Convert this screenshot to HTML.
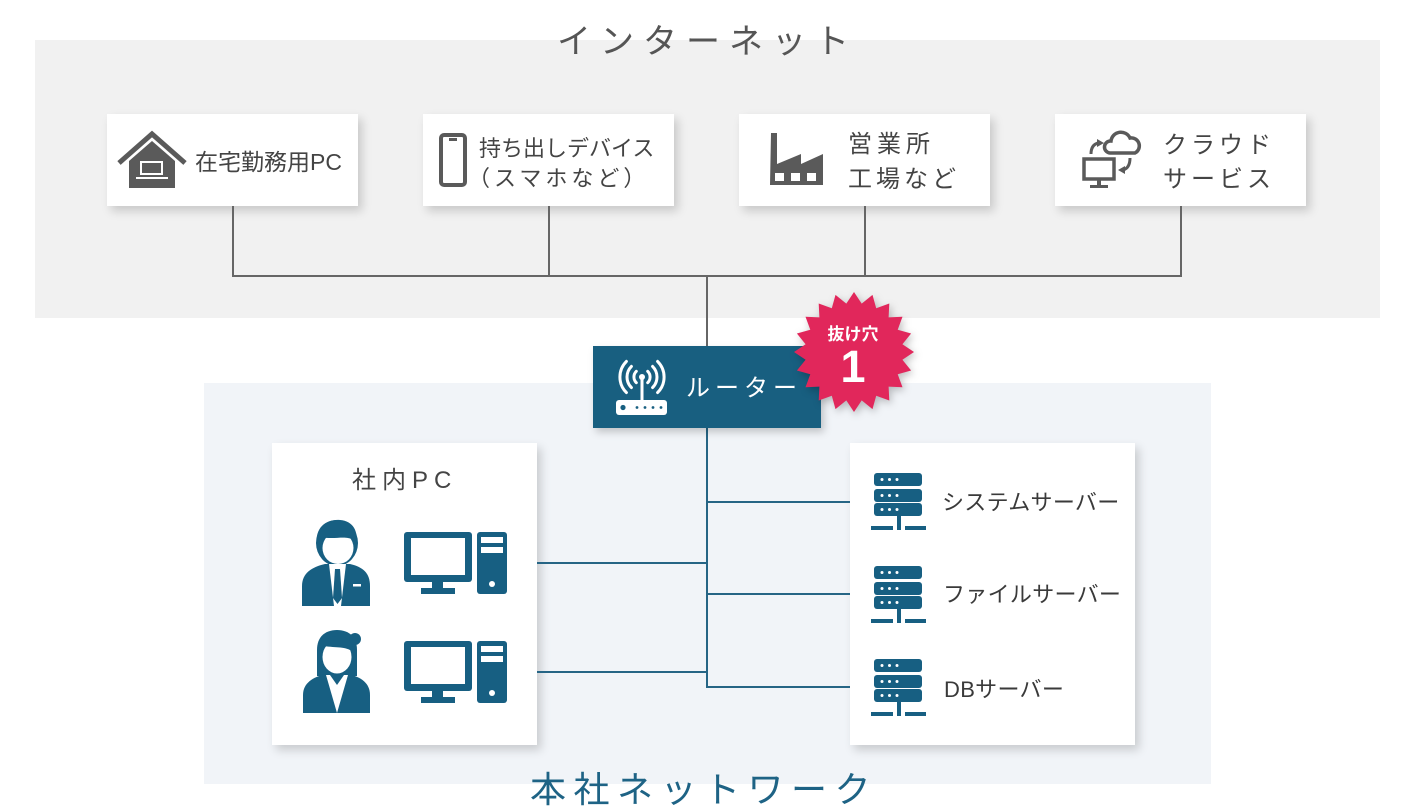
<!DOCTYPE html>
<html><head><meta charset="utf-8">
<style>
html,body{margin:0;padding:0;background:#fff;}
body{width:1412px;height:811px;position:relative;overflow:hidden;}
.band{position:absolute;}
.box{position:absolute;background:#fff;box-shadow:4px 5px 9px rgba(0,0,0,0.17);}
svg{position:absolute;left:0;top:0;}
text{font-family:"Liberation Sans","Noto Sans CJK JP",sans-serif;}
</style></head><body>
<div class="band" style="left:35px;top:40px;width:1345px;height:278px;background:#f1f1f1;"></div>
<div class="band" style="left:204px;top:383px;width:1007px;height:401px;background:#f1f4f8;"></div>

<div class="box" style="left:107px;top:114px;width:251px;height:92px;"></div>
<div class="box" style="left:423px;top:114px;width:251px;height:92px;"></div>
<div class="box" style="left:739px;top:114px;width:251px;height:92px;"></div>
<div class="box" style="left:1055px;top:114px;width:251px;height:92px;"></div>

<div class="box" style="left:272px;top:443px;width:265px;height:302px;"></div>
<div class="box" style="left:850px;top:443px;width:285px;height:302px;"></div>

<svg width="1412" height="811" viewBox="0 0 1412 811" xmlns="http://www.w3.org/2000/svg">
  <!-- gray connectors -->
  <g stroke="#666" stroke-width="2" fill="none">
    <line x1="233" y1="206" x2="233" y2="277"/>
    <line x1="549" y1="206" x2="549" y2="277"/>
    <line x1="865" y1="206" x2="865" y2="277"/>
    <line x1="1181" y1="206" x2="1181" y2="277"/>
    <line x1="232" y1="276" x2="1182" y2="276"/>
    <line x1="707" y1="276" x2="707" y2="347"/>
  </g>
  <!-- blue connectors -->
  <g stroke="#266585" stroke-width="2" fill="none">
    <line x1="707" y1="428" x2="707" y2="688"/>
    <line x1="706" y1="502" x2="850" y2="502"/>
    <line x1="706" y1="594" x2="850" y2="594"/>
    <line x1="706" y1="687" x2="850" y2="687"/>
    <line x1="537" y1="563" x2="708" y2="563"/>
    <line x1="537" y1="672" x2="708" y2="672"/>
  </g>

  <!-- Title -->
  <text x="557" y="53" font-size="34" letter-spacing="9" fill="#555">インターネット</text>

  <!-- house icon -->
  <g fill="#5a5a5a">
    <polyline points="119,163 152,134 185,163" fill="none" stroke="#5a5a5a" stroke-width="5"/>
    <polygon points="129,188 129,161 152,141 175,161 175,188"/>
    <rect x="141" y="162" width="21" height="12" fill="none" stroke="#fff" stroke-width="2"/>
    <rect x="136" y="177" width="32" height="2" fill="#fff"/>
  </g>
  <text x="195" y="170" font-size="23" fill="#444">在宅勤務用PC</text>

  <!-- phone icon -->
  <rect x="441" y="135" width="24" height="50" rx="3" fill="none" stroke="#5a5a5a" stroke-width="4"/>
  <rect x="449" y="138" width="8" height="3" fill="#5a5a5a"/>
  <text x="479" y="156" font-size="22" fill="#444">持ち出しデバイス</text>
  <text x="468" y="186" font-size="22" letter-spacing="4" fill="#444">（スマホなど）</text>

  <!-- factory icon -->
  <path d="M770,185 L771,133 L777,133 L777,164 L801,154 L801,164 L823,154 L823,185 Z" fill="#5a5a5a"/>
  <g fill="#fff">
    <rect x="775" y="173" width="9" height="8"/>
    <rect x="791" y="173" width="9" height="8"/>
    <rect x="807" y="173" width="9" height="8"/>
  </g>
  <text x="848" y="152" font-size="24" letter-spacing="5" fill="#444">営業所</text>
  <text x="848" y="187" font-size="24" letter-spacing="4" fill="#444">工場など</text>

  <!-- cloud icon -->
  <g stroke="#5a5a5a" stroke-width="3.5" fill="none">
    <path d="M1110,153 A6,6 0 0 1 1111,141 A10,10 0 0 1 1130,138 A8,8 0 0 1 1135,153 Z"/>
    <rect x="1084" y="159" width="30" height="20"/>
    <path d="M1091,154 Q1091,145 1098,143" stroke-width="3"/>
    <path d="M1130,158 Q1130,168 1123,170" stroke-width="3"/>
  </g>
  <g fill="#5a5a5a">
    <polygon points="1097,139 1104,143 1097,147"/>
    <polygon points="1125,166 1118,170 1125,174"/>
    <rect x="1097" y="180" width="4" height="5"/>
    <rect x="1090" y="185" width="18" height="3"/>
  </g>
  <text x="1163" y="153" font-size="24" letter-spacing="4" fill="#444">クラウド</text>
  <text x="1163" y="187" font-size="24" letter-spacing="4" fill="#444">サービス</text>

  <!-- router -->
  <rect x="593" y="346" width="228" height="82" fill="#185f80" style="filter:drop-shadow(3px 4px 4px rgba(0,0,0,0.2))"/>
  <g stroke="#fff" stroke-width="3" fill="none" stroke-linecap="round">
    <path d="M636.3,371.3 A8,8 0 0 0 636.3,382.7"/>
    <path d="M631.4,366.4 A15,15 0 0 0 631.4,387.6"/>
    <path d="M626.4,361.4 A22,22 0 0 0 626.4,392.6"/>
    <path d="M647.7,371.3 A8,8 0 0 1 647.7,382.7"/>
    <path d="M652.6,366.4 A15,15 0 0 1 652.6,387.6"/>
    <path d="M657.6,361.4 A22,22 0 0 1 657.6,392.6"/>
    <line x1="642" y1="378" x2="642" y2="400"/>
  </g>
  <circle cx="642" cy="377" r="3" fill="#fff"/>
  <rect x="616" y="400" width="51" height="15" rx="3" fill="#fff"/>
  <g fill="#185f80">
    <circle cx="623" cy="407.5" r="2.6"/>
    <circle cx="637" cy="407.5" r="1.4"/>
    <circle cx="645" cy="407.5" r="1.4"/>
    <circle cx="653" cy="407.5" r="1.4"/>
    <circle cx="661" cy="407.5" r="1.4"/>
  </g>
  <text x="686" y="396" font-size="24" letter-spacing="5" fill="#fff">ルーター</text>

  <!-- starburst -->
  <polygon fill="#e1275b" style="filter:drop-shadow(2px 3px 4px rgba(0,0,0,0.25))" points="854,292 861.7,303.6 872.5,294.9 876.2,308.3 889.3,303.5 888.6,317.4 902.5,316.7 897.7,329.8 911.1,333.5 902.4,344.3 914,352 902.4,359.7 911.1,370.5 897.7,374.2 902.5,387.3 888.6,386.6 889.3,400.5 876.2,395.7 872.5,409.1 861.7,400.4 854,412 846.3,400.4 835.5,409.1 831.8,395.7 818.7,400.5 819.4,386.6 805.5,387.3 810.3,374.2 796.9,370.5 805.6,359.7 794,352 805.6,344.3 796.9,333.5 810.3,329.8 805.5,316.7 819.4,317.4 818.7,303.5 831.8,308.3 835.5,294.9 846.3,303.6"/>
  <text x="853" y="340" font-size="17" font-weight="bold" fill="#fff" text-anchor="middle">抜け穴</text>
  <text x="853" y="382" font-size="45" font-weight="bold" fill="#fff" text-anchor="middle">1</text>

  <!-- 社内PC -->
  <text x="352" y="488" font-size="24" letter-spacing="6" fill="#444">社内PC</text>

  <!-- male -->
  <g fill="#175f82">
    <ellipse cx="337" cy="543" rx="21" ry="23"/>
    <ellipse cx="338" cy="548" rx="15.5" ry="16" fill="#fff"/>
    <path d="M317,546 C314,526 328,519 340,520 C353,521 359,531 356,546 L353,540 C346,535 334,540 321,537 Z"/>
    <path d="M302,606 L302,586 C302,573 312,567 325,564 L350,564 C363,567 370,573 370,586 L370,606 Z"/>
    <polygon points="329,564 334,606 341,606 346,564" fill="#fff"/>
    <polygon points="335,569 340,569 342,598 337.5,604 333,598"/>
    <rect x="353" y="584" width="8" height="2.5" fill="#fff"/>
  </g>
  <!-- female -->
  <g fill="#175f82">
    <path d="M317,676 L317,650 C317,636 326,630 337,630 C348,630 357,636 357,650 L357,676 Z"/>
    <circle cx="355" cy="639" r="6"/>
    <ellipse cx="337" cy="657" rx="14.5" ry="16.5" fill="#fff"/>
    <path d="M321,652 C322,640 330,636 338,636 C346,636 353,641 353,652 C346,646 336,648 324,646 Z"/>
    <path d="M303,713 L303,695 C303,683 313,677 326,674 L348,674 C361,677 370,683 370,695 L370,713 Z"/>
    <polygon points="326,675 337,713 348,675" fill="#fff"/>
    <polygon points="330,675 337,685 344,675"/>
  </g>
  <!-- PCs -->
  <g fill="#175f82">
    <rect x="404" y="532" width="68" height="50" rx="3"/>
    <rect x="411" y="538" width="54" height="37" fill="#fff"/>
    <rect x="432" y="582" width="11" height="7"/>
    <rect x="421" y="588" width="34" height="6"/>
    <rect x="477" y="532" width="30" height="62" rx="3"/>
    <rect x="481" y="537" width="22" height="6" fill="#fff"/>
    <rect x="481" y="547" width="22" height="6" fill="#fff"/>
    <circle cx="492" cy="584" r="3" fill="#fff"/>
  </g>
  <g fill="#175f82" transform="translate(0,109)">
    <rect x="404" y="532" width="68" height="50" rx="3"/>
    <rect x="411" y="538" width="54" height="37" fill="#fff"/>
    <rect x="432" y="582" width="11" height="7"/>
    <rect x="421" y="588" width="34" height="6"/>
    <rect x="477" y="532" width="30" height="62" rx="3"/>
    <rect x="481" y="537" width="22" height="6" fill="#fff"/>
    <rect x="481" y="547" width="22" height="6" fill="#fff"/>
    <circle cx="492" cy="584" r="3" fill="#fff"/>
  </g>

  <!-- servers -->
  <defs>
    <g id="srv">
      <g fill="#175f82">
        <rect x="874" y="473" width="48" height="13" rx="3"/>
        <rect x="874" y="489" width="48" height="13" rx="3"/>
        <rect x="874" y="503" width="48" height="13" rx="3"/>
        <rect x="897" y="516" width="4" height="10"/>
        <rect x="871" y="526" width="22" height="4"/>
        <rect x="897" y="526" width="4" height="4"/>
        <rect x="905" y="526" width="21" height="4"/>
      </g>
      <g fill="#fff">
        <circle cx="882" cy="479.5" r="1.5"/><circle cx="889.5" cy="479.5" r="1.5"/><circle cx="897" cy="479.5" r="1.5"/>
        <circle cx="882" cy="495.5" r="1.5"/><circle cx="889.5" cy="495.5" r="1.5"/><circle cx="897" cy="495.5" r="1.5"/>
        <circle cx="882" cy="509.5" r="1.5"/><circle cx="889.5" cy="509.5" r="1.5"/><circle cx="897" cy="509.5" r="1.5"/>
      </g>
    </g>
  </defs>
  <use href="#srv"/>
  <use href="#srv" transform="translate(0,93)"/>
  <use href="#srv" transform="translate(0,186)"/>
  <text x="942" y="510" font-size="22" letter-spacing="0.3" fill="#3a3a3a">システムサーバー</text>
  <text x="943" y="602" font-size="22" letter-spacing="0.3" fill="#3a3a3a">ファイルサーバー</text>
  <text x="944" y="697" font-size="22" letter-spacing="0.3" fill="#3a3a3a">DBサーバー</text>

  <!-- bottom title -->
  <text x="530" y="802" font-size="36" letter-spacing="7.5" fill="#1e6385">本社ネットワーク</text>
</svg>
</body></html>
